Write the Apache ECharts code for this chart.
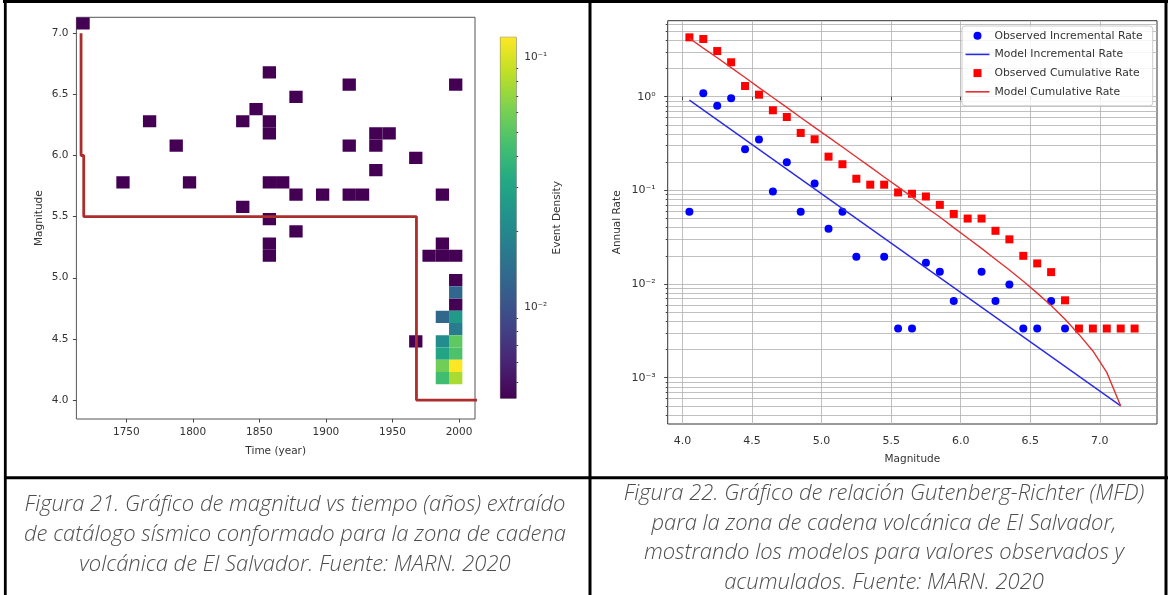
<!DOCTYPE html>
<html><head><meta charset="utf-8">
<script src="https://cdn.jsdelivr.net/npm/echarts@6/dist/echarts.min.js"></script>
<style>html,body{margin:0;padding:0;background:#fff}#c{width:1170px;height:595px}</style>
</head><body><div id="c"></div>
<script>
// ================= Figura 21: magnitude vs time =================
const yearTicks = [1750, 1800, 1850, 1900, 1950, 2000];
const magTicks = [4.0, 4.5, 5.0, 5.5, 6.0, 6.5, 7.0];
const yearBin = 10;
const magBin = 0.1;
const cellYears = [
  1717.5,1857.5,1917.5,1997.5,1877.5,1847.5,1767.5,1837.5,1857.5,1857.5,
  1787.5,1917.5,1937.5,1937.5,1947.5,1967.5,1937.5,1747.5,1797.5,1857.5,
  1867.5,1877.5,1897.5,1917.5,1927.5,1987.5,1837.5,1857.5,1877.5,1857.5,
  1857.5,1987.5,1977.5,1987.5,1997.5,1967.5,1997.5,1997.5,
  1997.5,1987.5,1997.5,1997.5,1997.5,1997.5,1997.5,1997.5,1987.5,1987.5,1987.5,1987.5
];
const cellMags = [
  7.08,6.68,6.58,6.58,6.48,6.38,6.28,6.28,6.28,6.18,
  6.08,6.08,6.18,6.08,6.18,5.98,5.88,5.78,5.78,5.78,
  5.78,5.68,5.68,5.68,5.68,5.68,5.58,5.48,5.38,5.28,
  5.18,5.28,5.18,5.18,5.18,4.48,4.98,4.78,
  4.88,4.68,4.68,4.58,4.48,4.38,4.28,4.18,4.48,4.38,4.28,4.18
];
const cellDensity = [
  0.0043,0.0043,0.0043,0.0043,0.0043,0.0043,0.0043,0.0043,0.0043,0.0043,
  0.0043,0.0043,0.0043,0.0043,0.0043,0.0043,0.0043,0.0043,0.0043,0.0043,
  0.0043,0.0043,0.0043,0.0043,0.0043,0.0043,0.0043,0.0043,0.0043,0.0043,
  0.0043,0.0043,0.0043,0.0043,0.0043,0.0043,0.0043,0.0043,
  0.0129,0.0129,0.0259,0.0172,0.052,0.047,0.12,0.078,0.0216,0.030,0.058,0.043
];
const completenessYears = [1716, 1716, 1718, 1718, 1968, 1968, 2020];
const completenessMags = [7.0, 6.0, 6.0, 5.5, 5.5, 4.0, 4.0];
const densityDecades = [-2, -1];

// ================= Figura 22: Gutenberg-Richter =================
const grMagTicks = [4.0, 4.5, 5.0, 5.5, 6.0, 6.5, 7.0];
const rateDecades = [-3, -2, -1, 0];
const obsIncMag = [4.05,4.15,4.25,4.35,4.45,4.55,4.65,4.75,4.85,4.95,5.05,5.15,5.25,5.45,5.55,5.65,5.75,5.85,5.95,6.15,6.25,6.35,6.45,6.55,6.65,6.75];
const obsIncRate = [0.059,1.09,0.80,0.96,0.275,0.35,0.097,0.20,0.059,0.118,0.039,0.059,0.0195,0.0195,0.00335,0.00335,0.0169,0.0135,0.0066,0.0135,0.0066,0.0099,0.00335,0.00335,0.0066,0.00335];
const modelIncMag = [4.05, 7.15];
const modelIncRate = [0.92, 0.0005];
const obsCumMag = [4.05,4.15,4.25,4.35,4.45,4.55,4.65,4.75,4.85,4.95,5.05,5.15,5.25,5.35,5.45,5.55,5.65,5.75,5.85,5.95,6.05,6.15,6.25,6.35,6.45,6.55,6.65,6.75,6.85,6.95,7.05,7.15,7.25];
const obsCumRate = [4.3,4.13,3.07,2.33,1.30,1.05,0.716,0.607,0.41,0.351,0.229,0.19,0.133,0.115,0.115,0.095,0.092,0.086,0.070,0.056,0.050,0.050,0.037,0.030,0.020,0.0166,0.0134,0.0067,0.00335,0.00335,0.00335,0.00335,0.00335];
const modelCumMag = [4.05,4.15,4.25,4.35,4.45,4.55,4.65,4.75,4.85,4.95,5.05,5.15,5.25,5.35,5.45,5.55,5.65,5.75,5.85,5.95,6.05,6.15,6.25,6.35,6.45,6.55,6.65,6.75,6.85,6.95,7.05,7.15];
const modelCumRate = [4.2,3.3,2.6,2.04,1.6,1.25,0.98,0.77,0.60,0.47,0.37,0.29,0.227,0.178,0.139,0.109,0.085,0.066,0.052,0.040,0.031,0.024,0.0184,0.0141,0.0107,0.0080,0.0059,0.0042,0.0029,0.00193,0.00114,0.0005];

// ================= Captions =================
const captionLeft = [
  'Figura 21. Gráfico de magnitud vs tiempo (años) extraído',
  'de catálogo sísmico conformado para la zona de cadena',
  'volcánica de El Salvador. Fuente: MARN. 2020'
];
const captionRight = [
  'Figura 22. Gráfico de relación Gutenberg-Richter (MFD)',
  'para la zona de cadena volcánica de El Salvador,',
  'mostrando los modelos para valores observados y',
  'acumulados. Fuente: MARN. 2020'
];

const viridis = ['#440154','#482475','#414487','#355f8d','#2a788e','#21918c','#22a884','#44bf70','#7ad151','#bddf26','#fde725'];
const FONT = "'DejaVu Sans', sans-serif";
const TXT = '#333';
const SUP = {'-':'⁻','0':'⁰','1':'¹','2':'²','3':'³','4':'⁴'};
const pow10Label = v => '10' + String(Math.round(v)).split('').map(c => SUP[c]).join('');
const log10 = Math.log10;

// log-minor positions within an extent (tick positions only)
function logTicks(lo, hi, withMajor) {
  const out = [];
  for (let n = Math.floor(lo) - 1; n <= Math.ceil(hi); n++) {
    for (let k = withMajor ? 1 : 2; k <= 9; k++) {
      const v = n + log10(k);
      if (v >= lo - 1e-9 && v <= hi + 1e-9) out.push(v);
    }
  }
  return out;
}

const cellData = cellYears.map((y, i) => [y, cellMags[i], log10(cellDensity[i])]);
const dMin = log10(Math.min(...cellDensity));
const dMax = log10(Math.max(...cellDensity));
const complData = completenessYears.map((y, i) => [y, completenessMags[i]]);

const yMin = -3.494, yMax = 0.811;
const rateMinor = logTicks(yMin, yMax, true);
const cbMinor = logTicks(dMin, dMax, false).filter(v => Math.abs(v - Math.round(v)) > 1e-6);

const toLog = (ms, rs) => ms.map((m, i) => [m, log10(rs[i])]);

const chart = echarts.init(document.getElementById('c'), null, {renderer: 'canvas'});
const CAPFONT = "italic 300 22px 'Open Sans', 'DejaVu Sans', sans-serif";

const option = {
  animation: false,
  backgroundColor: '#fff',
  textStyle: {fontFamily: FONT},
  grid: [
    {left: 76.4, top: 17.3, width: 398.6, height: 401.7, show: true, borderColor: '#555', borderWidth: 1, outerBoundsMode: 'none', containLabel: false},
    {left: 500.4, top: 37.3, width: 15.8, height: 361, show: true, borderColor: '#555', borderWidth: 0.8, outerBoundsMode: 'none', containLabel: false},
    {left: 667.7, top: 20.7, width: 489.3, height: 403.3, show: true, borderColor: '#333', borderWidth: 1, outerBoundsMode: 'none', containLabel: false}
  ],
  xAxis: [
    {gridIndex: 0, type: 'value', min: 1712.5, max: 2012,
     axisLine: {show: false}, splitLine: {show: false},
     axisTick: {customValues: yearTicks, length: 3.5, lineStyle: {color: '#444'}},
     axisLabel: {customValues: yearTicks, fontSize: 10.5, color: TXT, margin: 8, formatter: v => String(v)},
     name: 'Time (year)', nameLocation: 'middle', nameGap: 27, nameTextStyle: {fontSize: 10.5, color: TXT}},
    {gridIndex: 1, type: 'value', min: 0, max: 1, show: false},
    {gridIndex: 2, type: 'value', min: 3.894, max: 7.411,
     axisLine: {show: false},
     axisTick: {customValues: grMagTicks, length: 3.5, lineStyle: {color: '#444'}},
     splitLine: {show: true, lineStyle: {color: '#b0b0b0', width: 0.8}},
     axisLabel: {customValues: grMagTicks, fontSize: 11, color: TXT, margin: 12, formatter: v => v.toFixed(1)},
     name: 'Magnitude', nameLocation: 'middle', nameGap: 30, nameTextStyle: {fontSize: 10.5, color: TXT}}
  ],
  yAxis: [
    {gridIndex: 0, type: 'value', min: 3.845, max: 7.13,
     axisLine: {show: false}, splitLine: {show: false},
     axisTick: {customValues: magTicks, length: 3.5, lineStyle: {color: '#444'}},
     axisLabel: {customValues: magTicks, fontSize: 10.5, color: TXT, margin: 8, formatter: v => v.toFixed(1)},
     name: 'Magnitude', nameLocation: 'middle', nameGap: 32, nameRotate: 90, nameTextStyle: {fontSize: 10.5, color: TXT}},
    {gridIndex: 1, type: 'value', position: 'right', min: dMin, max: dMax,
     axisLine: {show: false}, splitLine: {show: false},
     axisTick: {customValues: densityDecades, length: 3.5, lineStyle: {color: '#444'}},
     axisLabel: {customValues: densityDecades, fontSize: 10.5, color: TXT, margin: 8, formatter: v => pow10Label(v)},
     name: 'Event Density', nameLocation: 'middle', nameGap: 36, nameRotate: 90, nameTextStyle: {fontSize: 10.5, color: TXT}},
    {gridIndex: 1, type: 'value', position: 'right', min: dMin, max: dMax,
     axisLine: {show: false}, splitLine: {show: false}, axisLabel: {show: false},
     axisTick: {customValues: cbMinor, length: 2, lineStyle: {color: '#444'}}},
    {gridIndex: 2, type: 'value', position: 'left', min: yMin, max: yMax,
     axisLine: {show: false},
     axisTick: {customValues: rateMinor, length: 2, lineStyle: {color: '#444'}},
     splitLine: {show: true, lineStyle: {color: '#b0b0b0', width: 0.8}},
     axisLabel: {customValues: rateDecades, fontSize: 11, color: TXT, margin: 12, formatter: v => pow10Label(v)},
     name: 'Annual Rate', nameLocation: 'middle', nameGap: 45, nameRotate: 90, nameTextStyle: {fontSize: 10.5, color: TXT}},
    {gridIndex: 2, type: 'value', position: 'left', min: yMin, max: yMax,
     axisLine: {show: false}, splitLine: {show: false}, axisLabel: {show: false},
     axisTick: {customValues: rateDecades, length: 3.5, lineStyle: {color: '#444'}}}
  ],
  visualMap: [{
    type: 'continuous', show: false, seriesIndex: 0, dimension: 2,
    min: dMin, max: dMax, inRange: {color: viridis}
  }],
  legend: {
    orient: 'vertical', left: 962, top: 26, selectedMode: false,
    padding: [3.7, 10, 8, 3.5], itemWidth: 24, itemHeight: 8, itemGap: 6.7,
    backgroundColor: 'rgba(255,255,255,0.85)', borderColor: '#cccccc', borderWidth: 1, borderRadius: 3,
    textStyle: {fontSize: 10.8, color: TXT, lineHeight: 12, fontFamily: FONT},
    symbolKeepAspect: true,
    data: [
      {name: 'Observed Incremental Rate', icon: 'circle'},
      {name: 'Model Incremental Rate', icon: 'path://M0,0H24V1.6H0Z'},
      {name: 'Observed Cumulative Rate', icon: 'path://M0,0H8V8H0Z'},
      {name: 'Model Cumulative Rate', icon: 'path://M0,0H24V1.6H0Z'}
    ]
  },
  series: [
    {type: 'custom', xAxisIndex: 0, yAxisIndex: 0, clip: true, data: cellData,
     encode: {x: 0, y: 1},
     renderItem: function (params, api) {
       const yr = api.value(0), m = api.value(1);
       const a = api.coord([yr - yearBin / 2, m + magBin / 2]);
       const b = api.coord([yr + yearBin / 2, m - magBin / 2]);
       return {type: 'rect', shape: {x: a[0], y: a[1], width: b[0] - a[0], height: b[1] - a[1]},
               style: {fill: api.visual('color')}};
     }},
    {type: 'line', xAxisIndex: 0, yAxisIndex: 0, data: complData, showSymbol: false, clip: true,
     lineStyle: {color: '#ad2d2d', width: 2.8}, itemStyle: {color: '#ad2d2d'}, z: 5},
    {type: 'custom', xAxisIndex: 1, yAxisIndex: 1, data: [[0, dMin, 1, dMax]],
     encode: {x: [0, 2], y: [1, 3]},
     renderItem: function (params, api) {
       const a = api.coord([api.value(0), api.value(3)]);
       const b = api.coord([api.value(2), api.value(1)]);
       const stops = viridis.map((c, i) => ({offset: i / (viridis.length - 1), color: c}));
       return {type: 'rect', shape: {x: a[0], y: a[1], width: b[0] - a[0], height: b[1] - a[1]},
               style: {fill: new echarts.graphic.LinearGradient(0, 1, 0, 0, stops)}};
     }},
    {name: 'Observed Incremental Rate', type: 'scatter', xAxisIndex: 2, yAxisIndex: 3,
     data: toLog(obsIncMag, obsIncRate), symbol: 'circle', symbolSize: 8, itemStyle: {color: '#0000ff', opacity: 1}},
    {name: 'Observed Cumulative Rate', type: 'scatter', xAxisIndex: 2, yAxisIndex: 3,
     data: toLog(obsCumMag, obsCumRate), symbol: 'rect', symbolSize: 8, itemStyle: {color: '#ff0000', opacity: 1}},
    {name: 'Model Incremental Rate', type: 'line', xAxisIndex: 2, yAxisIndex: 3,
     data: toLog(modelIncMag, modelIncRate), showSymbol: false,
     lineStyle: {color: '#2a2ae6', width: 1.4}, itemStyle: {color: '#2a2ae6'}, z: 4},
    {name: 'Model Cumulative Rate', type: 'line', xAxisIndex: 2, yAxisIndex: 3,
     data: toLog(modelCumMag, modelCumRate), showSymbol: false,
     lineStyle: {color: '#e23232', width: 1.4}, itemStyle: {color: '#e23232'}, z: 4}
  ],
  graphic: [
    {type: 'line', shape: {x1: 3, y1: 1.5, x2: 1168, y2: 1.5}, style: {stroke: '#000', lineWidth: 3}, silent: true},
    {type: 'line', shape: {x1: 5.3, y1: 0, x2: 5.3, y2: 595}, style: {stroke: '#000', lineWidth: 2.8}, silent: true},
    {type: 'line', shape: {x1: 590, y1: 0, x2: 590, y2: 595}, style: {stroke: '#000', lineWidth: 3}, silent: true},
    {type: 'line', shape: {x1: 1166, y1: 0, x2: 1166, y2: 595}, style: {stroke: '#000', lineWidth: 3}, silent: true},
    {type: 'line', shape: {x1: 4, y1: 477.7, x2: 1168, y2: 477.7}, style: {stroke: '#000', lineWidth: 3}, silent: true},
    {type: 'text', silent: true, style: {
      text: captionLeft.join('\n'), x: 295, y: 535, textAlign: 'center', textVerticalAlign: 'middle',
      font: CAPFONT, lineHeight: 30, fill: '#4d4d4d'}},
    {type: 'text', silent: true, style: {
      text: captionRight.join('\n'), x: 884, y: 538, textAlign: 'center', textVerticalAlign: 'middle',
      font: CAPFONT, lineHeight: 29.5, fill: '#4d4d4d'}}
  ]
};
chart.setOption(option);
</script>
</body></html>
